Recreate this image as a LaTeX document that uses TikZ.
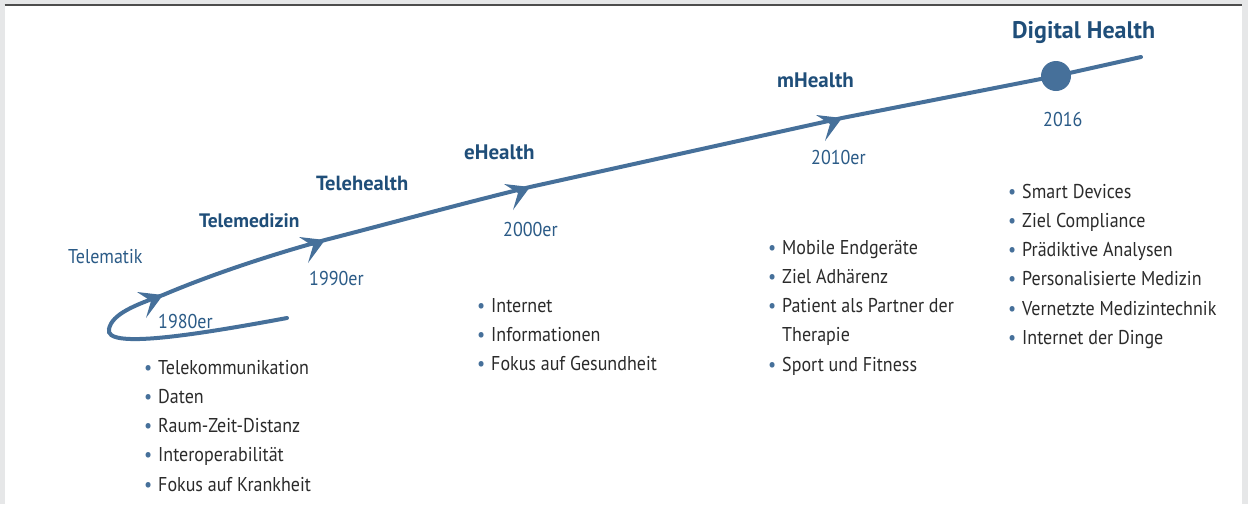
\documentclass[tikz,border=0pt]{standalone}
\usepackage{fontspec}
\setmainfont{PT Sans}[FakeStretch=0.9]
\newfontfamily\headfont{PT Sans}
\usepackage{tikz}

\definecolor{tlline}{HTML}{46709A}
\definecolor{tlhead}{HTML}{1F4E79}
\definecolor{tlyear}{HTML}{2B5B87}
\definecolor{tltext}{HTML}{2B2B2B}
\definecolor{framegray}{HTML}{E6E7E8}
\definecolor{framedark}{HTML}{4D4D4D}

\newcommand{\bul}{\llap{\textcolor{tlline}{•}\hspace{6pt}}}

\begin{document}
\begin{tikzpicture}[x=1pt,y=-1pt,
    every node/.style={inner sep=0pt,anchor=base west},
    head/.style={font=\headfont\fontsize{21}{25}\selectfont\bfseries,text=tlhead},
    year/.style={font=\fontsize{20}{24}\selectfont,text=tlyear},
    item/.style={font=\fontsize{20}{24}\selectfont,text=tltext},
    pics/tlarrow/.style={code={\fill[tlline] (0,0) -- (-26,-3) -- (-12,6) -- (-17,23) -- cycle;}}]
  \useasboundingbox (0,0) rectangle (1248,504);
  \fill[framegray] (0,0) rectangle (1248,504);
  \fill[white] (4.5,5) rectangle (1242,504);
  \draw[framedark,line width=1.5pt] (4.5,5.2) -- (1242,5.2);

  \coordinate (start) at (287,318);
  \coordinate (turn) at (109,329);
  \coordinate (p1980) at (163,295);
  \coordinate (p1990) at (325,240);
  \coordinate (p2000) at (530,187);
  \coordinate (p2010) at (842,118);
  \coordinate (dh) at (1056,76);
  \coordinate (end) at (1141,57);

  % the loop at the start, then almost straight up to 2016
  \draw[tlline,line width=4pt,line cap=round] (start) .. controls (190,336) and (104,349) .. (turn)
    .. controls (112,314) and (135,305) .. (p1980)
    .. controls (210,275) and (270,255) .. (p1990)
    .. controls (395,222) and (460,204) .. (p2000)
    -- (p2010) -- (dh) -- (end);
  \foreach \p in {p1980,p1990,p2000,p2010}
    \pic at (\p) {tlarrow};
  \node[circle,fill=tlline,minimum size=30pt,anchor=center] (dhdot) at (dh) {};

  \node[year] (telematik) at (68,263) {Telematik};
  \node[head,font=\headfont\fontsize{19.5}{24}\selectfont\bfseries] (telemedizin) at (199,227) {Telemedizin};
  \node[head,font=\headfont\fontsize{20.5}{25}\selectfont\bfseries] (telehealth) at (316,190) {Telehealth};
  \node[head] (ehealth) at (464,159) {eHealth};
  \node[head] (mhealth) at (777,87) {mHealth};
  \node[head,font=\headfont\fontsize{24}{28}\selectfont\bfseries] (digital) at (1012,38) {Digital Health};

  \node[year] (y1980) at (158,328) {1980er};
  \node[year] (y1990) at (309,285) {1990er};
  \node[year] (y2000) at (503,236) {2000er};
  \node[year] (y2010) at (811,164) {2010er};
  \node[year] (y2016) at (1043,126) {2016};

  \foreach \t [count=\i from 0] in {Telekommunikation,Daten,Raum-Zeit-Distanz,Interoperabilität,Fokus auf Krankheit}
    \node[item] (a\i) at (158,374+29.3*\i) {\bul\t};
  \foreach \t [count=\i from 0] in {Internet,Informationen,Fokus auf Gesundheit}
    \node[item] (b\i) at (491,312+29.3*\i) {\bul\t};
  \foreach \b/\t [count=\i from 0] in {1/Mobile Endgeräte,1/Ziel Adhärenz,1/Patient als Partner der,0/Therapie,1/Sport und Fitness}
    \node[item] (c\i) at (782,254+29.3*\i) {\ifnum\b=1 \bul\fi\t};
  \foreach \t [count=\i from 0] in {Smart Devices,Ziel Compliance,Prädiktive Analysen,Personalisierte Medizin,Vernetzte Medizintechnik,Internet der Dinge}
    \node[item] (d\i) at (1022,198+29.3*\i) {\bul\t};
\end{tikzpicture}
\end{document}
